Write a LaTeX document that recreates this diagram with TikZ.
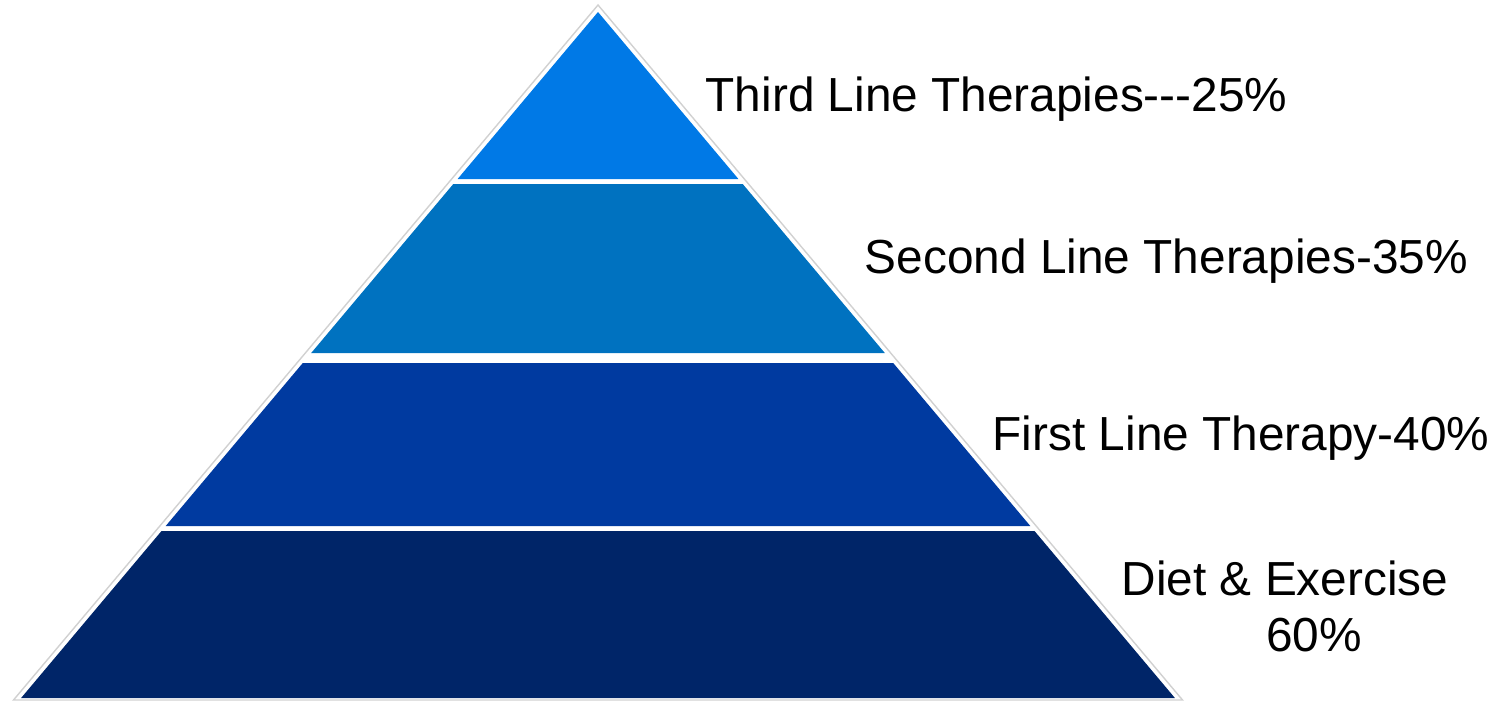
\documentclass[tikz,border=0pt]{standalone}
\usepackage{fontspec}
\setmainfont{Liberation Sans}
\usepackage{xcolor}

\definecolor{thirdline}{HTML}{0079E6}
\definecolor{secondline}{HTML}{0072C0}
\definecolor{firstline}{HTML}{003AA0}
\definecolor{dietex}{HTML}{002568}

\tikzset{
  tiertext/.style={anchor=base west, inner sep=0pt, font=\fontsize{13.6}{15.9}\selectfont},
  rim/.style={draw=black!18, line width=0.4pt}
}

\begin{document}
\begin{tikzpicture}
        \useasboundingbox (0,0) rectangle (15.11,7.01);
        % faint outline round the whole pyramid
        \draw[rim] (5.98,6.96) -- (11.825,0.01) -- (0.135,0.01) -- cycle;
        % the four tiers, bottom to top
        \fill[dietex] (0.211,0.03) -- (11.749,0.03) -- (10.345,1.70) -- (1.615,1.70) -- cycle;
        \fill[firstline] (1.657,1.75) -- (10.303,1.75) -- (8.932,3.38) -- (3.028,3.38) -- cycle;
        \fill[secondline] (3.112,3.48) -- (8.848,3.48) -- (7.427,5.17) -- (4.533,5.17) -- cycle;
        \fill[thirdline] (4.576,5.22) -- (7.384,5.22) -- (5.98,6.89) -- cycle;
        % labels
        \node[tiertext](third) at (7.05,5.89) {Third Line Therapies-{}-{}-25\%};
        \node[tiertext](second) at (8.64,4.28) {Second Line Therapies-35\%};
        \node[tiertext](first) at (9.92,2.51) {First Line Therapy-40\%};
        \node[tiertext, anchor=base, align=center](diet) at (12.85,0.50) {Diet \& Exercise\\\hspace*{0.58cm}60\%};
        \end{tikzpicture}
\end{document}
